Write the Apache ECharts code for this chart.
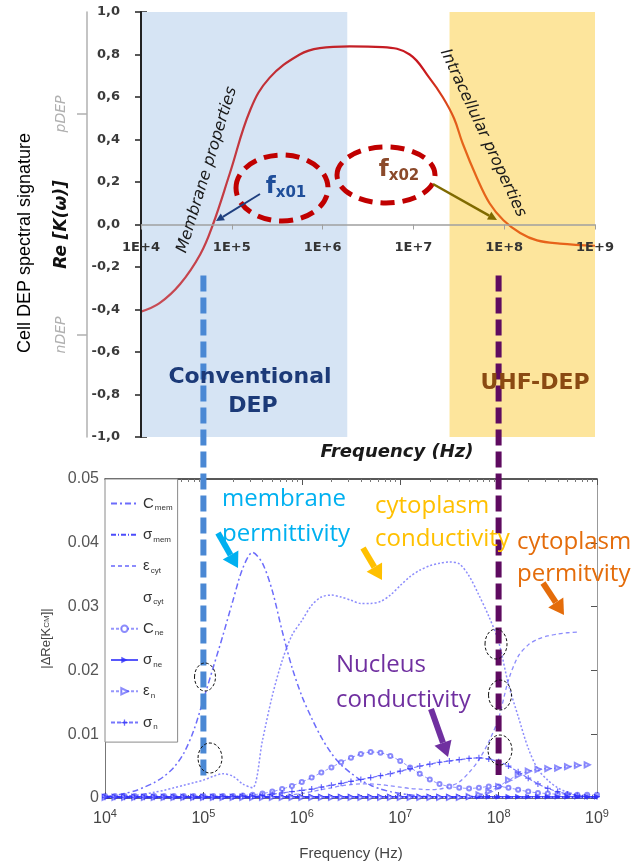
<!DOCTYPE html>
<html>
<head>
<meta charset="utf-8">
<script src="https://cdn.jsdelivr.net/npm/echarts@6/dist/echarts.min.js"></script>
<style>html,body{margin:0;padding:0;background:#fff}#c{width:640px;height:863px}</style>
</head>
<body>
<div id="c"></div>
<script>
// ---------- TOP CHART DATA (Re[K(w)] vs frequency) ----------
const topFreq = [1e4, 1.6e4, 2.7e4, 4.5e4, 6.2e4, 9.5e4, 1.6e5, 2.6e5, 5.6e5, 9.3e5, 2e6, 4.6e6, 9.1e6, 1.5e7, 2.1e7, 2.8e7, 3.5e7, 5e7, 6.9e7, 9.8e7, 1.5e8, 2.3e8, 4.1e8, 1e9];
const topRe   = [-0.41, -0.37, -0.28, -0.14, 0.0, 0.24, 0.54, 0.69, 0.80, 0.83, 0.838, 0.835, 0.80, 0.69, 0.60, 0.50, 0.38, 0.22, 0.10, 0.02, -0.04, -0.075, -0.09, -0.10];
const convBand = [1e4, 1.87e6];
const uhfBand  = [2.5e7, 1.88e9];
const topSideTicks = [0.52, -0.52];
const topSideLabels = ['pDEP', 'nDEP'];

// ---------- BOTTOM CHART DATA (|ΔRe[K_CM]| vs frequency) ----------
const bottomFreq = [
  1e4,1.26e4,1.58e4,2e4,2.51e4,3.16e4,3.98e4,5.01e4,6.31e4,7.94e4,
  1e5,1.26e5,1.58e5,2e5,2.51e5,3.16e5,3.98e5,5.01e5,6.31e5,7.94e5,
  1e6,1.26e6,1.58e6,2e6,2.51e6,3.16e6,3.98e6,5.01e6,6.31e6,7.94e6,
  1e7,1.26e7,1.58e7,2e7,2.51e7,3.16e7,3.98e7,5.01e7,6.31e7,7.94e7,
  1e8,1.26e8,1.58e8,2e8,2.51e8,3.16e8,3.98e8,5.01e8,6.31e8,7.94e8,1e9];
const cMem = [0.0002,0.0004,0.0007,0.0011,0.0017,0.0024,0.0034,0.0048,0.0070,0.0105,
  0.0154,0.0205,0.0255,0.0310,0.0360,0.0385,0.0368,0.0325,0.0262,0.0205,
  0.0160,0.0125,0.0095,0.0070,0.0052,0.0039,0.0028,0.0020,0.0014,0.0010,
  0.0007,0.0005,0.0003,0.0002,0.0001,0.0001,0.0001,0,0,0,
  0,0,0,0,0,0,0,0,0,0,0];
const sMem = [0.0001,0.0001,0.0001,0.0001,0.0001,0.0001,0.0001,0.0001,0.0001,0.0001,
  0.0001,0.0001,0.0001,0.0001,0.0001,0.0001,0.0001,0.0001,0.0001,0.0001,
  0.0001,0.0001,0.0001,0.0001,0.0001,0.0001,0.0001,0.0001,0.0001,0.0001,
  0.0001,0.0001,0.0001,0.0001,0.0001,0.0001,0.0001,0.0001,0.0001,0.0001,
  0.0001,0.0001,0.0001,0.0001,0.0001,0.0001,0.0001,0.0001,0.0001,0.0001,0.0001];
const eCyt = [0,0,0,0,0,0,0,0,0,0,
  0,0,0,0,0,0,0.0001,0.0002,0.0003,0.0005,
  0.0007,0.0010,0.0013,0.0016,0.0019,0.0021,0.0022,0.0022,0.0021,0.0019,
  0.0017,0.0015,0.0014,0.0013,0.0014,0.0018,0.0025,0.0040,0.0060,0.0088,
  0.0125,0.0185,0.0222,0.0240,0.0249,0.0254,0.0257,0.0259,0.0260,null,null];
const sCyt = [0.0001,0.0002,0.0003,0.0004,0.0006,0.0009,0.0012,0.0016,0.0020,0.0024,
  0.0028,0.0034,0.0038,0.0034,0.0022,0.0016,0.0090,0.0160,0.0215,0.0255,
  0.0278,0.0302,0.0315,0.0318,0.0315,0.0310,0.0305,0.0305,0.0308,0.0318,
  0.0333,0.0347,0.0357,0.0364,0.0368,0.0370,0.0367,0.0348,0.0318,0.0285,
  0.0245,0.0178,0.0128,0.0078,0.0045,0.0028,0.0016,0.0009,0.0005,0.0002,0.0001];
const cNe = [0.0003,0.0003,0.0003,0.0003,0.0003,0.0003,0.0003,0.0003,0.0003,0.0003,
  0.0003,0.0003,0.0003,0.0003,0.0004,0.0005,0.0007,0.0010,0.0014,0.0019,
  0.0025,0.0032,0.0040,0.0048,0.0056,0.0063,0.0069,0.0072,0.0071,0.0066,
  0.0058,0.0048,0.0038,0.0029,0.0022,0.0018,0.0016,0.0015,0.0016,0.0018,
  0.0018,0.0016,0.0013,0.0010,0.0008,0.0007,0.0006,0.0006,0.0005,0.0005,0.0005];
const sNe = [0.0002,0.0002,0.0002,0.0002,0.0002,0.0002,0.0002,0.0002,0.0002,0.0002,
  0.0002,0.0002,0.0002,0.0002,0.0002,0.0002,0.0002,0.0002,0.0002,0.0002,
  0.0002,0.0002,0.0002,0.0002,0.0002,0.0002,0.0002,0.0002,0.0002,0.0002,
  0.0002,0.0002,0.0002,0.0002,0.0002,0.0002,0.0002,0.0002,0.0002,0.0002,
  0.0002,0.0002,0.0002,0.0002,0.0002,0.0002,0.0002,0.0002,0.0002,0.0002,0.0002];
const eN = [0.0001,0.0001,0.0001,0.0001,0.0001,0.0001,0.0001,0.0001,0.0001,0.0001,
  0.0001,0.0001,0.0001,0.0001,0.0001,0.0001,0.0001,0.0001,0.0001,0.0001,
  0.0001,0.0001,0.0001,0.0001,0.0001,0.0001,0.0001,0.0001,0.0001,0.0001,
  0.0001,0.0001,0.0001,0.0001,0.0001,0.0001,0.0001,0.0002,0.0005,0.0010,
  0.0018,0.0028,0.0036,0.0042,0.0045,0.0046,0.0047,0.0049,0.0051,0.0052,null];
const sN = [0.0001,0.0001,0.0001,0.0001,0.0001,0.0001,0.0001,0.0001,0.0001,0.0001,
  0.0001,0.0001,0.0002,0.0002,0.0003,0.0003,0.0004,0.0006,0.0008,0.0010,
  0.0012,0.0014,0.0017,0.0020,0.0023,0.0026,0.0029,0.0032,0.0035,0.0038,
  0.0042,0.0046,0.0050,0.0053,0.0056,0.0058,0.0060,0.0062,0.0063,0.0061,
  0.0057,0.0050,0.0041,0.0031,0.0022,0.0015,0.0010,0.0006,0.0004,0.0002,0.0002];
const legendNames = ['Cmem','σmem','εcyt','σcyt','Cne','σne','εn','σn'];
const legendRich = {
  'Cmem':'{a|C}{b|mem}','σmem':'{a|σ}{b|mem}','εcyt':'{a|ε}{b|cyt}','σcyt':'{a|σ}{b|cyt}',
  'Cne':'{a|C}{b|ne}','σne':'{a|σ}{b|ne}','εn':'{a|ε}{b|n}','σn':'{a|σ}{b|n}'
};
const lineOnlyLegend = ['Cmem','σmem','εcyt'];

const zip = (xs, ys) => xs.map((x, i) => [x, ys[i]]);
const chart = echarts.init(document.getElementById('c'), null, {renderer: 'canvas'});

const DV = 'DejaVu Sans';
const LS = 'Liberation Sans';
const blue = a => 'rgba(45,45,250,' + a + ')';

const topLine = new echarts.graphic.LinearGradient(0, 0, 1, 0, [
  {offset: 0, color: '#c8505a'}, {offset: 0.35, color: '#c0282e'},
  {offset: 0.62, color: '#c8161e'}, {offset: 0.70, color: '#e5641a'}, {offset: 1, color: '#e8621a'}]);

function bSeries(name, data, opt) {
  return Object.assign({
    name: name, type: 'line', xAxisIndex: 1, yAxisIndex: 3, data: zip(bottomFreq, data),
    smooth: 0.3, symbol: 'none', connectNulls: false, z: 3
  }, opt);
}

const option = {
  animation: false,
  backgroundColor: '#fff',
  grid: [
    {left: 141, top: 12, width: 454, height: 425},
    {left: 105, top: 479, width: 492, height: 319}
  ],
  xAxis: [
    {type: 'log', logBase: 10, gridIndex: 0, min: 1e4, max: 1e9, z: 5, position: 'bottom', offset: -212.5,
      axisLine: {onZero: false, lineStyle: {color: '#a0a0a0', width: 1.5}},
      axisTick: {show: true, length: 5, lineStyle: {color: '#a0a0a0'}},
      axisLabel: {margin: 17, color: '#333', fontFamily: DV, fontWeight: 'bold', fontSize: 13,
        formatter: v => '1E+' + Math.round(Math.log10(v))},
      splitLine: {show: false}},
    {type: 'log', logBase: 10, gridIndex: 1, min: 1e4, max: 1e9, position: 'bottom',
      axisLine: {onZero: false, lineStyle: {color: '#777'}},
      axisTick: {inside: true, length: 6, lineStyle: {color: '#555'}},
      minorTick: {show: true, splitNumber: 9, length: 3, lineStyle: {color: '#777'}},
      axisLabel: {margin: 10, formatter: v => '{b|10}{s|' + Math.round(Math.log10(v)) + '}',
        rich: {b: {fontFamily: LS, fontSize: 16, color: '#444'}, s: {fontFamily: LS, fontSize: 11, color: '#444', padding: [0, 0, 10, 0]}}},
      name: 'Frequency (Hz)', nameLocation: 'middle', nameGap: 48,
      nameTextStyle: {fontFamily: LS, fontSize: 15, color: '#444'},
      splitLine: {show: false}},
    {type: 'log', logBase: 10, gridIndex: 1, min: 1e4, max: 1e9, position: 'top',
      axisLine: {onZero: false, lineStyle: {color: '#222', width: 1.5}},
      axisTick: {inside: true, length: 6, lineStyle: {color: '#555'}},
      minorTick: {show: true, splitNumber: 9, length: 3, lineStyle: {color: '#777'}},
      axisLabel: {show: false}, splitLine: {show: false}}
  ],
  yAxis: [
    {type: 'value', gridIndex: 0, min: -1, max: 1, interval: 0.2, z: 5,
      axisLine: {show: true, onZero: false, lineStyle: {color: '#222', width: 2}},
      axisTick: {show: true, length: 6, lineStyle: {color: '#222', width: 1.5}},
      axisLabel: {margin: 21, color: '#3a3a3a', fontFamily: DV, fontWeight: 'bold', fontSize: 13,
        formatter: v => v.toFixed(1).replace('.', ',')},
      splitLine: {show: false}},
    {type: 'value', gridIndex: 0, min: -1, max: 1, position: 'left', offset: 54,
      axisLine: {show: true, onZero: false, lineStyle: {color: '#b0b0b0', width: 1.5}},
      axisTick: {show: true, length: 10, customValues: topSideTicks, lineStyle: {color: '#b0b0b0', width: 1.5}},
      axisLabel: {show: true, customValues: topSideTicks, rotate: 90, margin: 19,
        color: '#b0b0b0', fontFamily: DV, fontStyle: 'italic', fontSize: 14,
        formatter: v => topSideLabels[topSideTicks.indexOf(v)] || ''},
      name: 'Re [K(ω)]', nameLocation: 'middle', nameGap: 17, nameMoveOverlap: false,
      nameTextStyle: {fontFamily: DV, fontWeight: 'bold', fontStyle: 'italic', fontSize: 17, color: '#111'},
      splitLine: {show: false}},
    {type: 'value', gridIndex: 0, min: -1, max: 1, interval: 0.2, position: 'left',
      axisLine: {show: false}, axisTick: {show: true, inside: true, length: 6, lineStyle: {color: '#222', width: 1.5}},
      axisLabel: {show: false}, splitLine: {show: false}},
    {type: 'value', gridIndex: 1, min: 0, max: 0.05, interval: 0.01, position: 'left',
      axisLine: {show: true, onZero: false, lineStyle: {color: '#777'}},
      axisTick: {show: true, inside: true, length: 6, lineStyle: {color: '#555'}},
      axisLabel: {margin: 6, color: '#555', fontFamily: LS, fontSize: 16,
        formatter: v => v === 0 ? '0' : v.toFixed(2)},
      name: '|ΔRe[K{s|CM}]|', nameLocation: 'middle', nameGap: 52,
      nameTextStyle: {fontFamily: LS, fontSize: 13, color: '#444',
        rich: {s: {fontFamily: LS, fontSize: 8, color: '#444'}}},
      splitLine: {show: false}},
    {type: 'value', gridIndex: 1, min: 0, max: 0.05, interval: 0.01, position: 'right',
      axisLine: {show: true, onZero: false, lineStyle: {color: '#999'}},
      axisTick: {show: true, inside: true, length: 6, lineStyle: {color: '#555'}},
      axisLabel: {show: false}, splitLine: {show: false}}
  ],
  legend: {
    show: true, orient: 'vertical', left: 105, top: 479,
    data: legendNames.map(n => n === 'σcyt'
      ? {name: n, icon: 'none', itemStyle: {opacity: 0}, lineStyle: {opacity: 0}}
      : (lineOnlyLegend.indexOf(n) >= 0 ? {name: n, itemStyle: {opacity: 0}} : {name: n})),
    backgroundColor: '#fff', borderColor: '#8a8a8a', borderWidth: 1,
    padding: [17, 5, 11, 5], itemGap: 15.3, itemWidth: 27, itemHeight: 8,
    formatter: n => legendRich[n],
    textStyle: {fontFamily: LS, fontSize: 15, color: '#333',
      rich: {a: {fontFamily: LS, fontSize: 15, color: '#333'},
             b: {fontFamily: LS, fontSize: 8, color: '#333', padding: [9, 0, 0, 1]}}},
    selectedMode: false
  },
  series: [
    {name: 'Re[K]', type: 'line', xAxisIndex: 0, yAxisIndex: 0, data: zip(topFreq, topRe),
      smooth: 0.4, symbol: 'none', clip: false, z: 3,
      lineStyle: {color: topLine, width: 2.2},
      markArea: {silent: true, z: 1,
        data: [
          [{xAxis: convBand[0], yAxis: -1, itemStyle: {color: '#d6e4f4'}}, {xAxis: convBand[1], yAxis: 1}],
          [{xAxis: uhfBand[0], yAxis: -1, itemStyle: {color: '#fde59c'}}, {xAxis: uhfBand[1], yAxis: 1}]
        ]}},
    bSeries('Cmem', cMem, {lineStyle: {color: blue(0.7), width: 1.5, type: [6, 3, 2, 3]}, itemStyle: {color: blue(0.7)}}),
    bSeries('σmem', sMem, {lineStyle: {color: blue(0.85), width: 2, type: [5, 2, 1, 2]}, itemStyle: {color: blue(0.85)}}),
    bSeries('εcyt', eCyt, {lineStyle: {color: blue(0.55), width: 1.3, type: [4, 3]}, itemStyle: {color: blue(0.55)}}),
    bSeries('σcyt', sCyt, {lineStyle: {color: blue(0.55), width: 1.5, type: [2, 2]}, itemStyle: {color: blue(0.55)}}),
    bSeries('Cne', cNe, {symbol: 'emptyCircle', symbolSize: 4, showAllSymbol: true,
      lineStyle: {color: blue(0.5), width: 1, type: [3, 2]}, itemStyle: {color: blue(0.55), borderWidth: 1}}),
    bSeries('σne', sNe, {symbol: 'triangle', symbolRotate: -90, symbolSize: 6, showAllSymbol: true,
      lineStyle: {color: blue(0.8), width: 1.2}, itemStyle: {color: blue(0.8)}}),
    bSeries('εn', eN, {symbol: 'emptyTriangle', symbolRotate: -90, symbolSize: 5, showAllSymbol: true,
      lineStyle: {color: blue(0.5), width: 1, type: [3, 2]}, itemStyle: {color: blue(0.55), borderWidth: 1}}),
    bSeries('σn', sN, {symbol: 'path://M4,0h2v4h4v2h-4v4h-2v-4h-4v-2h4z', symbolSize: 6, showAllSymbol: true,
      lineStyle: {color: blue(0.65), width: 1.2, type: [4, 2]}, itemStyle: {color: blue(0.7)}})
  ]
};
chart.setOption(option);

// ---------- ANNOTATIONS ----------
function arrow(x1, y1, x2, y2, color, w, head, hw) {
  const a = Math.atan2(y2 - y1, x2 - x1);
  const bx = x2 - head * Math.cos(a), by = y2 - head * Math.sin(a);
  const px = -Math.sin(a), py = Math.cos(a);
  return [
    {type: 'line', z: 50, shape: {x1: x1, y1: y1, x2: bx, y2: by}, style: {stroke: color, lineWidth: w}},
    {type: 'polygon', z: 50, shape: {points: [[x2, y2], [bx + px * hw, by + py * hw], [bx - px * hw, by - py * hw]]}, style: {fill: color}}
  ];
}
function txt(x, y, text, font, color, rot, extra) {
  return {type: 'text', z: 50, x: x, y: y, rotation: (rot || 0) * Math.PI / 180,
    style: Object.assign({text: text, font: font, fill: color, align: 'center', verticalAlign: 'middle'}, extra || {})};
}
function ell(cx, cy, rx, ry, stroke, w, dash) {
  return {type: 'ellipse', z: 50, shape: {cx: cx, cy: cy, rx: rx, ry: ry},
    style: {fill: 'none', stroke: stroke, lineWidth: w, lineDash: dash}};
}
const px = (finder, v) => chart.convertToPixel(finder, v);
const gfx = [];
gfx.push(txt(25, 243, 'Cell DEP spectral signature', '18px "Liberation Sans"', '#000', 90));
gfx.push(txt(207, 170, 'Membrane properties', 'italic 16px "DejaVu Sans"', '#1a1a1a', 73));
gfx.push(txt(483, 133, 'Intracellular properties', 'italic 16px "DejaVu Sans"', '#1a1a1a', -65));
gfx.push(ell(282, 188, 46, 33, '#c00000', 5, [14, 8]));
gfx.push(ell(386, 175, 49, 28, '#c00000', 5, [14, 8]));
gfx.push(txt(286, 187, '{f|f}{s|x01}', '', '#1f4e9a', 0, {rich: {
  f: {font: 'bold 23px "DejaVu Sans"', fill: '#1f4e9a'},
  s: {font: 'bold 15px "DejaVu Sans"', fill: '#1f4e9a', padding: [12, 0, 0, 0]}}}));
gfx.push(txt(399, 170, '{f|f}{s|x02}', '', '#8b4a2b', 0, {rich: {
  f: {font: 'bold 23px "DejaVu Sans"', fill: '#8b4a2b'},
  s: {font: 'bold 15px "DejaVu Sans"', fill: '#8b4a2b', padding: [12, 0, 0, 0]}}}));
gfx.push(...arrow(260, 194, 216, 221, '#1f3f7f', 2, 8, 4));
gfx.push(...arrow(433, 184, 497, 220, '#7f6a00', 2.5, 9, 4.5));
gfx.push(txt(250, 377, 'Conventional', 'bold 22px "DejaVu Sans"', '#1c3a78'));
gfx.push(txt(253, 406, 'DEP', 'bold 22px "DejaVu Sans"', '#1c3a78'));
gfx.push(txt(535, 383, 'UHF-DEP', 'bold 22px "DejaVu Sans"', '#8a4a12'));
gfx.push(txt(397, 452, 'Frequency (Hz)', 'bold italic 18px "DejaVu Sans"', '#1a1a1a'));
const xb1 = px({xAxisIndex: 1}, 1e5), xb2 = px({xAxisIndex: 1}, 1e8);
const yTopStart = px({yAxisIndex: 0}, -0.24);
gfx.push({type: 'line', z: 40, shape: {x1: xb1, y1: yTopStart, x2: xb1, y2: px({yAxisIndex: 3}, 0.003)},
  style: {stroke: '#4a88d4', lineWidth: 6, lineDash: [16, 6]}});
gfx.push({type: 'line', z: 40, shape: {x1: xb2, y1: yTopStart, x2: xb2, y2: px({yAxisIndex: 3}, 0.0036)},
  style: {stroke: '#5e0b60', lineWidth: 6, lineDash: [16, 6]}});
[[205, 677, 10.5, 14], [210, 758, 12, 15], [496, 644, 11, 15], [500, 695, 11.5, 15], [500, 750, 12, 15]]
  .forEach(c => gfx.push(ell(c[0], c[1], c[2], c[3], '#111', 1, [3, 2])));
const OS = '24px "Open Sans"';
const lt = (x, y, t, c) => txt(x, y, t, OS, c, 0, {align: 'left'});
gfx.push(lt(222, 499, 'membrane', '#00b0f0'));
gfx.push(lt(222, 534, 'permittivity', '#00b0f0'));
gfx.push(lt(375, 506, 'cytoplasm', '#ffc000'));
gfx.push(lt(375, 539, 'conductivity', '#ffc000'));
gfx.push(lt(517, 542, 'cytoplasm', '#e46c0a'));
gfx.push(lt(517, 574, 'permitvity', '#e46c0a'));
gfx.push(lt(336, 665, 'Nucleus', '#7030a0'));
gfx.push(lt(336, 700, 'conductivity', '#7030a0'));
gfx.push(...arrow(218, 533, 238, 568, '#00b0f0', 6, 15, 9));
gfx.push(...arrow(363, 548, 382, 580, '#ffc000', 6, 15, 9));
gfx.push(...arrow(543, 583, 564, 615, '#e46c0a', 6, 15, 9));
gfx.push(...arrow(431, 709, 448, 757, '#7030a0', 6, 15, 9));
chart.setOption({graphic: gfx});
</script>
</body>
</html>
